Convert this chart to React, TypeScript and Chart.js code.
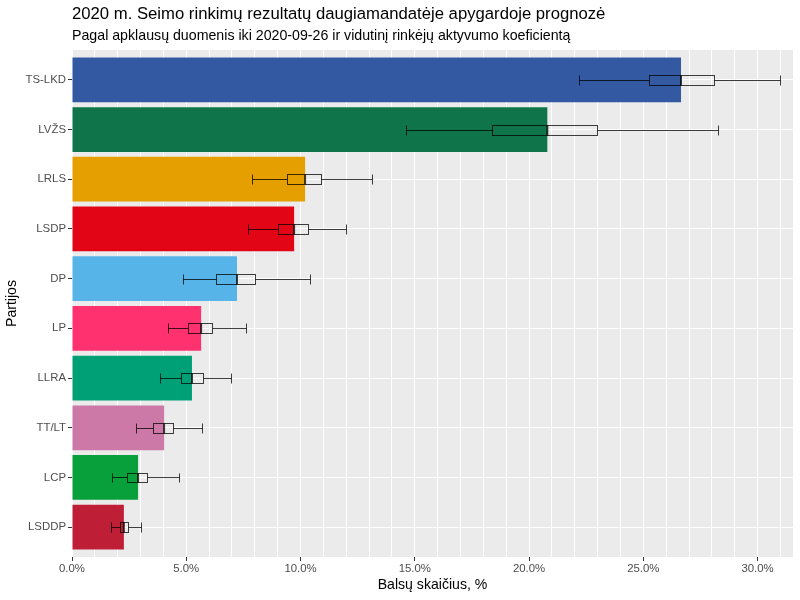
import { useEffect, useRef } from "react";
import { Chart, registerables } from "chart.js";

Chart.register(...registerables);

const title = "2020 m. Seimo rinkimų rezultatų daugiamandatėje apygardoje prognozė";
const subtitle = "Pagal apklausų duomenis iki 2020-09-26 ir vidutinį rinkėjų aktyvumo koeficientą";
const xTitle = "Balsų skaičius, %";
const yTitle = "Partijos";

const parties = ["TS-LKD", "LVŽS", "LRLS", "LSDP", "DP", "LP", "LLRA", "TT/LT", "LCP", "LSDDP"];
const shares = [26.65, 20.8, 10.2, 9.72, 7.22, 5.65, 5.25, 4.03, 2.89, 2.27];
const q1 = [25.25, 18.4, 9.4, 9.0, 6.3, 5.09, 4.76, 3.54, 2.42, 2.09];
const q3 = [28.1, 22.96, 10.88, 10.34, 8.0, 6.11, 5.72, 4.43, 3.28, 2.46];
const whiskerLow = [22.2, 14.6, 7.89, 7.72, 4.84, 4.19, 3.85, 2.79, 1.74, 1.71];
const whiskerHigh = [30.96, 28.25, 13.14, 12.0, 10.42, 7.6, 6.95, 5.7, 4.68, 3.01];
const partyColors = [
  "#3359A3", "#10744B", "#E5A000", "#E10516", "#57B4E8",
  "#FF316E", "#00A077", "#CC79A7", "#08A03A", "#BF1F36",
];
const xMajorTicks = [0, 5, 10, 15, 20, 25, 30];
const xMax = 31.55;

const FONT = "'Liberation Sans', Arial, Helvetica, sans-serif";

export default function App() {
  const ref = useRef<HTMLCanvasElement>(null);

  useEffect(() => {
    const canvas = ref.current;
    if (!canvas) return;

    const panelBg = {
      id: "panelBg",
      beforeDraw(chart: any) {
        const { ctx, chartArea: a } = chart;
        ctx.save();
        ctx.fillStyle = "#EBEBEB";
        ctx.fillRect(a.left, a.top, a.right - a.left, a.bottom - a.top);
        ctx.restore();
      },
    };

    const boxes = {
      id: "boxes",
      afterDatasetsDraw(chart: any) {
        const { ctx, scales } = chart;
        const x = scales.x;
        const y = scales.y;
        const px = (v: number) => Math.round(x.getPixelForValue(v)) + 0.5;
        ctx.save();
        ctx.strokeStyle = "rgba(0,0,0,0.75)";
        parties.forEach((_, i) => {
          const yc = y.getPixelForValue(i + 1);
          const h = Math.abs(y.getPixelForValue(i + 1.1) - yc);
          const top = Math.round(yc - h) + 0.5;
          const bot = Math.round(yc + h) + 0.5;
          const mid = Math.round(yc) + 0.5;
          const wl = px(whiskerLow[i]);
          const wh = px(whiskerHigh[i]);
          const b1 = px(q1[i]);
          const b3 = px(q3[i]);
          const md = x.getPixelForValue(shares[i]);
          ctx.lineWidth = 1;
          ctx.beginPath();
          ctx.moveTo(wl, mid);
          ctx.lineTo(b1, mid);
          ctx.moveTo(b3, mid);
          ctx.lineTo(wh, mid);
          ctx.moveTo(wl, top);
          ctx.lineTo(wl, bot);
          ctx.moveTo(wh, top);
          ctx.lineTo(wh, bot);
          ctx.stroke();
          ctx.strokeRect(b1, top, b3 - b1, bot - top);
          ctx.lineWidth = 2;
          ctx.beginPath();
          ctx.moveTo(md, top);
          ctx.lineTo(md, bot);
          ctx.stroke();
        });
        ctx.restore();
      },
    };

    const titles = {
      id: "titles",
      afterDraw(chart: any) {
        const { ctx, chartArea: a } = chart;
        ctx.save();
        ctx.fillStyle = "#000000";
        ctx.textAlign = "left";
        ctx.textBaseline = "middle";
        ctx.font = `16.7px ${FONT}`;
        ctx.fillText(title, a.left, 14);
        ctx.font = `14.2px ${FONT}`;
        ctx.fillText(subtitle, a.left, 36);
        ctx.restore();
      },
    };

    const chart = new Chart(canvas, {
      type: "bar",
      data: {
        datasets: [
          {
            data: shares.map((v, i) => ({ x: v, y: i + 1 })),
            backgroundColor: partyColors,
            borderWidth: 0,
            barPercentage: 0.9,
            categoryPercentage: 1,
          },
        ],
      },
      options: {
        indexAxis: "y",
        responsive: false,
        devicePixelRatio: 1,
        animation: false,
        layout: { padding: { top: 50, right: 7, bottom: 0, left: 0 } },
        plugins: {
          legend: { display: false },
          tooltip: { enabled: false },
          title: { display: false },
        },
        scales: {
          x: {
            type: "linear",
            position: "bottom",
            min: 0,
            max: xMax,
            offset: false,
            afterBuildTicks(scale: any) {
              const t = [];
              for (let v = 0; v <= Math.floor(xMax); v++) t.push({ value: v });
              scale.ticks = t;
            },
            afterFit(scale: any) {
              scale.height = 43;
            },
            border: { display: false },
            grid: {
              offset: false,
              color: "#FFFFFF",
              lineWidth: 1,
              drawTicks: true,
              tickLength: 4,
              tickColor: (ctx: any) =>
                ctx.tick && xMajorTicks.includes(ctx.tick.value) ? "#333333" : "rgba(0,0,0,0)",
              tickWidth: 1,
            },
            ticks: {
              autoSkip: false,
              maxRotation: 0,
              minRotation: 0,
              padding: 1,
              color: "#4D4D4D",
              font: { family: FONT, size: 11.4 },
              callback: (v: any) => (xMajorTicks.includes(Number(v)) ? `${Number(v).toFixed(1)}%` : ""),
            },
            title: {
              display: true,
              text: xTitle,
              color: "#000000",
              font: { family: FONT, size: 14.1 },
              padding: { top: 2, bottom: 6 },
            },
          },
          y: {
            type: "linear",
            reverse: true,
            min: 0.4,
            max: 10.6,
            offset: false,
            afterBuildTicks(scale: any) {
              scale.ticks = parties.map((_, i) => ({ value: i + 1 }));
            },
            afterFit(scale: any) {
              scale.width = 72;
            },
            border: { display: false },
            grid: {
              offset: false,
              color: "#FFFFFF",
              lineWidth: 1,
              drawTicks: true,
              tickLength: 4,
              tickColor: "#333333",
              tickWidth: 1,
            },
            ticks: {
              autoSkip: false,
              padding: 2,
              color: "#4D4D4D",
              font: { family: FONT, size: 11.4 },
              callback: (v: any) => parties[Number(v) - 1] ?? "",
            },
            title: {
              display: true,
              text: yTitle,
              color: "#000000",
              font: { family: FONT, size: 14.1 },
              padding: { top: 4, bottom: 2 },
            },
          },
        },
      } as any,
      plugins: [panelBg, boxes, titles],
    });

    return () => chart.destroy();
  }, []);

  return (
    <div style={{ position: "absolute", left: 0, top: 0, width: 800, height: 600, background: "#FFFFFF" }}>
      <canvas ref={ref} width={800} height={600} style={{ display: "block", width: 800, height: 600 }} />
    </div>
  );
}
